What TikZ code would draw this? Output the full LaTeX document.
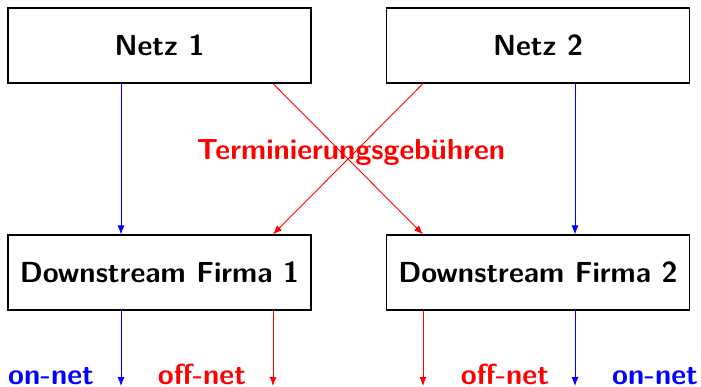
\documentclass[tikz,border=0pt]{standalone}
\usepackage{fontspec}
\usetikzlibrary{arrows.meta,calc}
\begin{document}
\begin{tikzpicture}[x=1pt,y=-1pt,
  box/.style={draw=black,line width=1.2pt,fill=white,minimum width=303pt,minimum height=75pt,inner sep=0pt,
    font=\fontsize{29}{34}\selectfont\sffamily\bfseries},
  lbl/.style={inner sep=0pt,anchor=base,font=\fontsize{29}{34}\selectfont\sffamily\bfseries},
  arr/.style={line width=0.9pt,-{Latex[length=9pt,width=7pt]}}]
\useasboundingbox (0,0) rectangle (701,387);
\node[box] (n1) at (159.5,45.5) {Netz 1};
\node[box] (n2) at (538,45.5) {Netz 2};
\node[box] (f1) at (159.5,272.5) {Downstream Firma 1};
\node[box] (f2) at (538,272.5) {Downstream Firma 2};
% attachment points
\coordinate (n1a) at (121,83.6);
\coordinate (n1b) at (273,83.6);
\coordinate (n2a) at (423,83.6);
\coordinate (n2b) at (575,83.6);
\coordinate (f1a) at (121,234.4);
\coordinate (f1b) at (273,234.4);
\coordinate (f2a) at (423,234.4);
\coordinate (f2b) at (575,234.4);
\coordinate (g1a) at (121,310.6);
\coordinate (g1b) at (273,310.6);
\coordinate (g2a) at (423,310.6);
\coordinate (g2b) at (575,310.6);
\coordinate (e1a) at (121,386);
\coordinate (e1b) at (273,386);
\coordinate (e2a) at (423,386);
\coordinate (e2b) at (575,386);
\draw[arr,blue] (n1a) -- (f1a);
\draw[arr,blue] (n2b) -- (f2b);
\draw[arr,red] (n1b) -- (f2a);
\draw[arr,red] (n2a) -- (f1b);
\draw[arr,blue] (g1a) -- (e1a);
\draw[arr,red] (g1b) -- (e1b);
\draw[arr,red] (g2a) -- (e2a);
\draw[arr,blue] (g2b) -- (e2b);
\node[lbl,red] (tg) at (351,160) {Terminierungsgebühren};
\node[lbl,blue] (l1) at (51,384) {on-net};
\node[lbl,red] (l2) at (202,384) {off-net};
\node[lbl,red] (l3) at (505,384) {off-net};
\node[lbl,blue] (l4) at (655,384) {on-net};
\end{tikzpicture}
\end{document}
